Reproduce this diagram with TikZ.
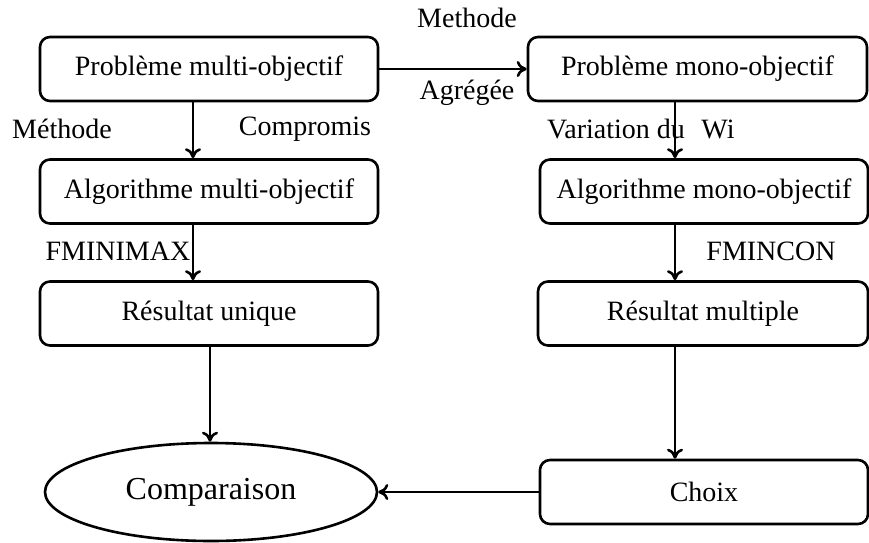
\documentclass[tikz,border=0pt]{standalone}
\usepackage{fontspec}
\setmainfont{Liberation Serif}
\usetikzlibrary{shapes, arrows.meta, positioning, calc}
\tikzset{
    box/.style={
        rectangle, draw, rounded corners=5pt,
        minimum height=32pt, align=center,
        font=\fontsize{14}{16}\selectfont
    },
    lbl/.style={font=\fontsize{14}{16}\selectfont},
    arrow/.style={line width=1.3pt,-{To[length=5pt,width=8pt]}}
}
\begin{document}
\begin{tikzpicture}[x=0.5pt, y=-0.5pt, line width=1.3pt]
        \useasboundingbox (0,0) rectangle (869,542);
        % Layout
        \node [box, minimum width=169pt] (pbmulti) at (209, 69) {Problème multi-objectif};
        \node [box, minimum width=169pt] (algomulti) at (209, 191.5) {Algorithme multi-objectif};
        \node [box, minimum width=169pt] (resunique) at (209, 313.5) {Résultat unique};
        \node [ellipse, draw, minimum width=166pt, minimum height=49pt, font=\fontsize{16}{19}\selectfont] (comparaison) at (211, 492) {Comparaison};
        \node [box, minimum width=169.5pt] (pbmono) at (697.5, 69) {Problème mono-objectif};
        \node [box, minimum width=164pt] (algomono) at (704, 191.5) {Algorithme mono-objectif};
        \node [box, minimum width=165pt] (resmultiple) at (703, 313.5) {Résultat multiple};
        \node [box, minimum width=164pt] (choix) at (704, 492) {Choix};
        \coordinate (lx) at (193, 0);
        \coordinate (cx) at (210, 0);
        \coordinate (rx) at (675, 0);

        % Labels
        \node [lbl] (methodeagr) at (467, 18) {Methode};
        \node [lbl] (agregee) at (467, 93) {Agrégée};
        \node [lbl] (methode) at (62, 129) {Méthode};
        \node [lbl] (compromis) at (305, 129) {Compromis};
        \node [lbl] (variation) at (616, 129) {Variation du};
        \node [lbl] (wi) at (718, 129) {Wi};
        \node [lbl] (fminimax) at (118, 251) {FMINIMAX};
        \node [lbl] (fmincon) at (771, 251) {FMINCON};

        % Flows
        \draw [arrow] (pbmulti) -- (pbmono);
        \draw [arrow] (pbmulti.south -| lx) -- (algomulti.north -| lx);
        \draw [arrow] (algomulti.south -| lx) -- (resunique.north -| lx);
        \draw [arrow] (resunique.south -| cx) -- (comparaison.north -| cx);
        \draw [arrow] (pbmono.south -| rx) -- (algomono.north -| rx);
        \draw [arrow] (algomono.south -| rx) -- (resmultiple.north -| rx);
        \draw [arrow] (resmultiple.south -| rx) -- (choix.north -| rx);
        \draw [arrow] (choix) -- (comparaison);
    \end{tikzpicture}
\end{document}
